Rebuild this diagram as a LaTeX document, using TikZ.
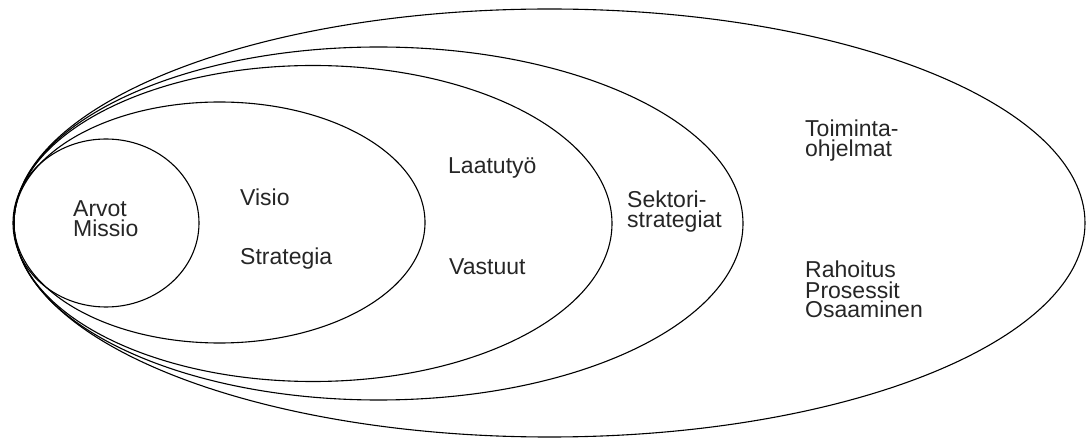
\documentclass[tikz,border=0pt]{standalone}
\usepackage{fontspec}
\setmainfont{Liberation Sans}
\begin{document}
\begin{tikzpicture}[x=1pt,y=-1pt,
  ring/.style={draw=black,line width=1.1pt},
  lbl/.style={inner sep=0pt,anchor=base west,align=left,font=\fontsize{23}{20}\selectfont,text=black!85}]
\useasboundingbox (0,0) rectangle (1087,438);
\fill[white] (0,0) rectangle (1087,438);
% nested rings
\draw[ring] (549.5,223) ellipse [x radius=535.5, y radius=214];
\draw[ring] (378.5,223.5) ellipse [x radius=364.5, y radius=176.5];
\draw[ring] (313,223.5) ellipse [x radius=299, y radius=158];
\draw[ring] (219.5,222.5) ellipse [x radius=205.5, y radius=120.5];
\draw[ring] (106,223) ellipse [x radius=93, y radius=84];
% labels (anchor = baseline of the last line)
\node[lbl] (arvot) at (73,237) {Arvot\\Missio};
\node[lbl] (visio) at (240,206) {Visio};
\node[lbl] (strategia) at (240,265) {Strategia};
\node[lbl] (laatu) at (448,174) {Laatutyö};
\node[lbl] (vastuut) at (449,275) {Vastuut};
\node[lbl] (sektori) at (627,228) {Sektori-\\strategiat};
\node[lbl] (toiminta) at (805,157) {Toiminta-\\ohjelmat};
\node[lbl] (rahoitus) at (805,318) {Rahoitus\\Prosessit\\Osaaminen};
\end{tikzpicture}
\end{document}
